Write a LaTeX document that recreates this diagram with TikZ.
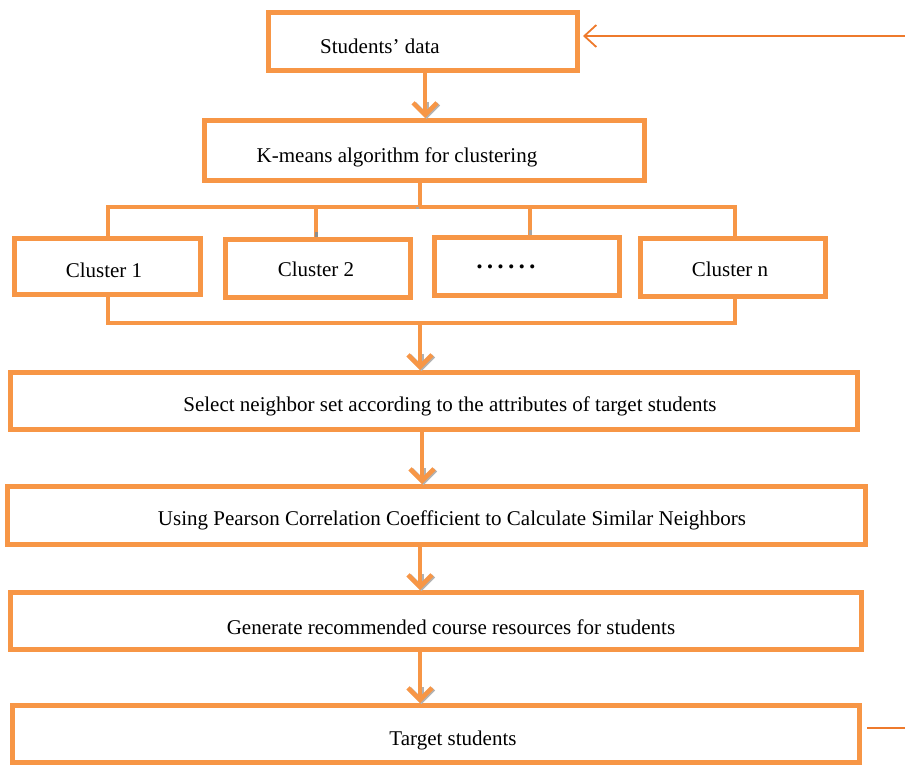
\documentclass[tikz,border=0pt]{standalone}
\usepackage{fontspec}
\setmainfont{Liberation Serif}
\usetikzlibrary{arrows.meta}
\definecolor{bord}{HTML}{F79646}
\definecolor{thinor}{HTML}{EE7A2C}
\begin{document}
\begin{tikzpicture}[x=1pt,y=-1pt,
  box/.style={draw=bord, line width=5pt, fill=white, inner sep=0pt},
  txt/.style={inner sep=0pt, font=\fontsize{21}{24}\selectfont},
  conn/.style={draw=bord, line width=4pt},
  flow/.style={draw=bord, line width=4.5pt, -{Straight Barb[length=12pt,width=24pt]}},
  shadowtip/.style={draw=black!30, line width=4.5pt, -{Straight Barb[length=12pt,width=24pt]}},
  thinarrow/.style={draw=thinor, line width=1.8pt, -{Straight Barb[length=12pt,width=22pt]}},
  thinline/.style={draw=thinor, line width=1.8pt}]
\useasboundingbox (0,0) rectangle (905,766);
% boxes
\node[box, minimum width=309pt, minimum height=58pt] (sd) at (423,41.5) {};
\node[box, minimum width=440pt, minimum height=60pt] (km) at (424.5,150.5) {};
\node[box, minimum width=186pt, minimum height=56pt] (c1) at (107.5,266.5) {};
\node[box, minimum width=185pt, minimum height=58pt] (c2) at (318,268.5) {};
\node[box, minimum width=185pt, minimum height=58pt] (c3) at (527,266.5) {};
\node[box, minimum width=185pt, minimum height=58pt] (cn) at (733,267.5) {};
\node[box, minimum width=847pt, minimum height=57pt] (sel) at (434,401) {};
\node[box, minimum width=858pt, minimum height=58pt] (pea) at (436.5,515.5) {};
\node[box, minimum width=851pt, minimum height=57pt] (gen) at (436,621) {};
\node[box, minimum width=847pt, minimum height=57pt] (tgt) at (436,734) {};
% texts
\node[txt] (sdt) at (380,46) {Students’ data};
\node[txt] (kmt) at (397,157) {K-means algorithm for clustering};
\node[txt] (c1t) at (104,270) {Cluster 1};
\node[txt] (c2t) at (316,269) {Cluster 2};
\node[txt, font=\fontsize{17}{19}\selectfont] (c3t) at (506,269) {\textbullet\hspace{4.6pt}\textbullet\hspace{4.6pt}\textbullet\hspace{4.6pt}\textbullet\hspace{4.6pt}\textbullet\hspace{4.6pt}\textbullet};
\node[txt] (cnt) at (730,269) {Cluster n};
\node[txt] (selt) at (450,406) {Select neighbor set according to the attributes of target students};
\node[txt] (peat) at (452,520) {Using Pearson Correlation Coefficient to Calculate Similar Neighbors};
\node[txt] (gent) at (451,627) {Generate recommended course resources for students};
\node[txt] (tgtt) at (453,740) {Target students};
% coordinates
\coordinate (inR) at (905,36);
\coordinate (a1) at (425,0);
\coordinate (bt) at (420,207);
\coordinate (bb) at (420,323);
\coordinate (a2) at (422,0);
\coordinate (a3) at (420,0);
\coordinate (tl) at (905,728);
% connectors
\draw[thinarrow, shorten >=3pt] (inR) -- (sd.east |- inR);
\draw[shadowtip] ([xshift=1.5pt,yshift=16pt]km.north -| a1) -- ([xshift=1.5pt,yshift=-1pt]km.north -| a1);
\draw[flow] (sd.south -| a1) -- (km.north -| a1);
\draw[conn] (km.south -| bt) -- (bt);
\draw[conn] (c1.north) -- (c1.north |- bt) -- ([xshift=2pt]cn.north |- bt) -- ([xshift=2pt]cn.north);
\draw[conn] ([xshift=-2pt]c2.north) -- ([xshift=-2pt]c2.north |- bt);
\draw[conn] ([xshift=3pt]c3.north) -- ([xshift=3pt]c3.north |- bt);
\draw[black!45, line width=3pt] ([xshift=-2pt]c2.north) -- ++(0,-5);
\draw[black!35, line width=3pt] ([xshift=3pt]c3.north) -- ++(0,-5);
\draw[black!35, line width=3pt] ([xshift=-3pt]bt) -- ++(0,2);
\draw[conn] (c1.south) -- (c1.south |- bb) -- ([xshift=2pt]cn.south |- bb) -- ([xshift=2pt]cn.south);
\draw[shadowtip] ([xshift=1.5pt,yshift=16pt]sel.north -| bb) -- ([xshift=1.5pt,yshift=-1pt]sel.north -| bb);
\draw[flow] (bb) -- (sel.north -| bb);
\draw[shadowtip] ([xshift=1.5pt,yshift=16pt]pea.north -| a2) -- ([xshift=1.5pt,yshift=-1pt]pea.north -| a2);
\draw[flow] (sel.south -| a2) -- (pea.north -| a2);
\draw[shadowtip] ([xshift=1.5pt,yshift=16pt]gen.north -| a3) -- ([xshift=1.5pt,yshift=-1pt]gen.north -| a3);
\draw[flow] (pea.south -| a3) -- (gen.north -| a3);
\draw[shadowtip] ([xshift=1.5pt,yshift=16pt]tgt.north -| a3) -- ([xshift=1.5pt,yshift=-1pt]tgt.north -| a3);
\draw[flow] (gen.south -| a3) -- (tgt.north -| a3);
\draw[thinline] ([xshift=5pt]tgt.east |- tl) -- (tl);
\end{tikzpicture}
\end{document}
